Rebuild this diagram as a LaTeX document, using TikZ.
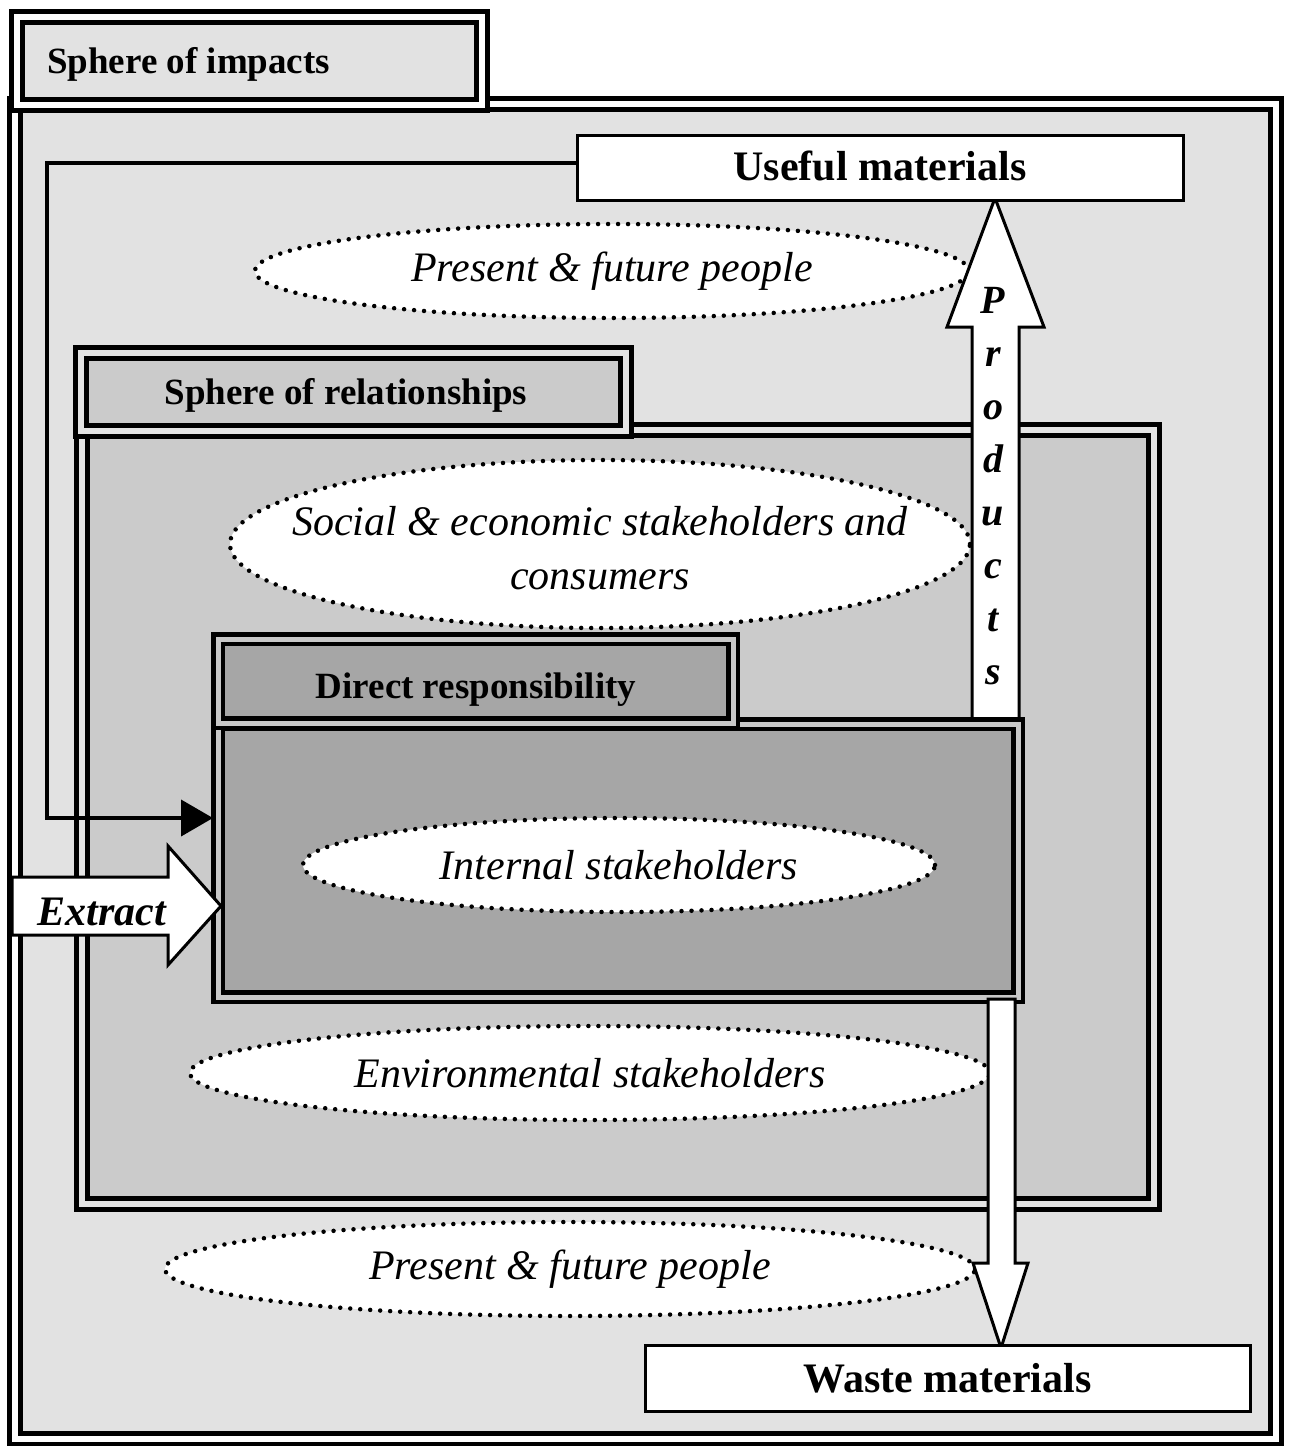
\documentclass[tikz,border=0pt]{standalone}
\usepackage{fontspec}
\setmainfont{Liberation Serif}
\usetikzlibrary{shapes.geometric,arrows.meta}
\definecolor{impfill}{HTML}{E2E2E2}
\definecolor{relfill}{HTML}{CBCBCB}
\definecolor{drfill}{HTML}{A6A6A6}
\definecolor{drgap}{HTML}{C8C8C8}
\definecolor{relgap}{HTML}{E4E4E4}
\tikzset{
  frame/.style={draw=black, line width=5pt, double distance=6pt},
  ell/.style={ellipse, draw=black, fill=white, line width=4.5pt,
    dash pattern=on 0pt off 10pt, line cap=round, inner sep=0pt},
  elltext/.style={font=\itshape\fontsize{42}{54}\selectfont, align=center, inner sep=0pt},
  tabtext/.style={font=\bfseries\fontsize{37}{44}\selectfont, inner sep=0pt},
  matbox/.style={rectangle, draw=black, fill=white, line width=3pt, inner sep=0pt,
    font=\bfseries\fontsize{42}{50}\selectfont},
  bigarrow/.style={draw=black, fill=white, line width=3pt, line join=miter},
  conn/.style={draw=black, line width=4pt}
}
\begin{document}
\begin{tikzpicture}[x=1pt,y=-1pt]
\useasboundingbox[fill=white] (0,0) rectangle (1289,1446);

% Sphere of impacts
\draw[frame, double=white, fill=impfill] (15,103.5) rectangle (1276,1438.5);
\draw[frame, double=white, fill=impfill] (16.5,17) rectangle (482,104.5);
\node[tabtext, anchor=west] (imptab) at (47,64) {Sphere of impacts};

% top people ellipse
\node[ell, minimum width=714pt, minimum height=94pt] (pp1) at (612,271) {};
\node[elltext] (pp1t) at (pp1.center) {Present \& future people};

% Sphere of relationships
\draw[frame, double=relgap, fill=relfill] (82,430) rectangle (1154,1204);
\draw[frame, double=relgap, fill=relfill] (81,353) rectangle (626,431);
\node[tabtext] (reltab) at (346,395) {Sphere of relationships};

% social ellipse
\node[ell, minimum width=740pt, minimum height=168pt] (soc) at (600,544) {};
\node[elltext] (soct) at (600,548) {Social \& economic stakeholders and\\consumers};

% Products arrow
\coordinate (pa1) at (972,718);
\coordinate (pa2) at (972,327);
\coordinate (pa3) at (947,327);
\coordinate (ptip) at (995,198);
\coordinate (pa5) at (1044,327);
\coordinate (pa6) at (1019,327);
\coordinate (pa7) at (1019,718);
\draw[bigarrow] (pa1) -- (pa2) -- (pa3) -- (ptip) -- (pa5) -- (pa6) -- (pa7);
\node[font=\bfseries\itshape\fontsize{40}{53}\selectfont, align=center, inner sep=0pt, anchor=north]
  (prod) at (993,287) {P\\r\\o\\d\\u\\c\\t\\s};

% Direct responsibility
\draw[frame, line width=4.5pt, double distance=5pt, double=drgap, fill=drfill] (218,724) rectangle (1018,997);
\coordinate (drW) at (213,818);
\draw[frame, line width=4.5pt, double distance=5pt, double=drgap, fill=drfill] (218,639) rectangle (733,723);
\node[tabtext] (drtab) at (476,690) {Direct responsibility};

% internal ellipse
\node[ell, minimum width=632pt, minimum height=94pt] (intl) at (619,865) {};
\node[elltext] (intlt) at (intl.center) {Internal stakeholders};

% environmental ellipse
\node[ell, minimum width=800pt, minimum height=94pt] (env) at (590,1073) {};
\node[elltext] (envt) at (env.center) {Environmental stakeholders};

% bottom people ellipse
\node[ell, minimum width=810pt, minimum height=94pt] (pp2) at (570,1269) {};
\node[elltext] (pp2t) at (pp2.center) {Present \& future people};

% Waste arrow
\coordinate (wa1) at (988,999);
\coordinate (wa2) at (988,1263);
\coordinate (wa3) at (973,1263);
\coordinate (wtip) at (1001,1348);
\coordinate (wa5) at (1028,1263);
\coordinate (wa6) at (1015,1263);
\coordinate (wa7) at (1015,999);
\draw[bigarrow] (wa1) -- (wa2) -- (wa3) -- (wtip) -- (wa5) -- (wa6) -- (wa7) -- cycle;

% Extract arrow
\coordinate (ea1) at (12,877);
\coordinate (ea2) at (168,877);
\coordinate (ea3) at (168,846);
\coordinate (etip) at (221,906);
\coordinate (ea5) at (168,965);
\coordinate (ea6) at (168,935);
\coordinate (ea7) at (12,935);
\draw[bigarrow] (ea1) -- (ea2) -- (ea3) -- (etip) -- (ea5) -- (ea6) -- (ea7) -- cycle;
\node[font=\bfseries\itshape\fontsize{42}{50}\selectfont, inner sep=0pt] (extract) at (102,912) {Extract};

% materials boxes
\node[matbox, minimum width=606pt, minimum height=65pt] (useful) at (880,167.5) {\raisebox{3pt}{Useful materials}};
\node[matbox, minimum width=605pt, minimum height=66pt] (waste) at (947.5,1378) {Waste materials};

% connector
\coordinate (c1) at (47,163);
\coordinate (c2) at (47,818);
\draw[conn, -{Triangle[length=32pt,width=36pt]}] (useful.west |- c1) -- (c1) -- (c2) -- (drW);
\end{tikzpicture}
\end{document}
